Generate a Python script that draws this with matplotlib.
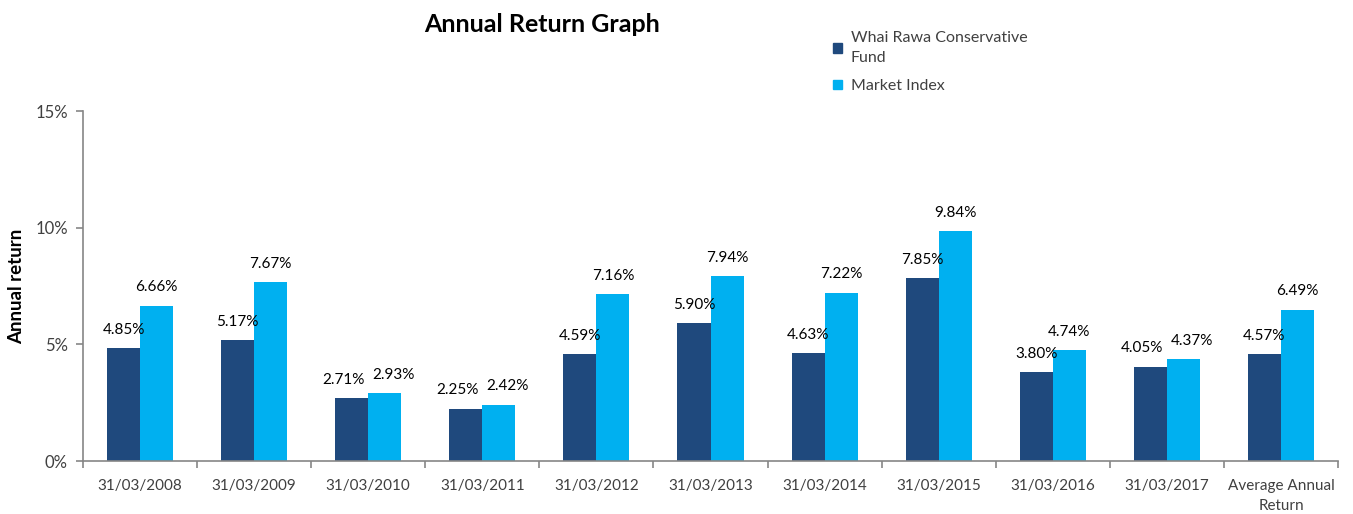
import numpy as np
import matplotlib
matplotlib.use('Agg')
import matplotlib.pyplot as plt
from matplotlib.patches import Patch

plt.rcParams['font.family'] = ['Lato', 'DejaVu Sans']

# data
categories = ['31/03/2008', '31/03/2009', '31/03/2010', '31/03/2011', '31/03/2012',
              '31/03/2013', '31/03/2014', '31/03/2015', '31/03/2016', '31/03/2017',
              'Average Annual\nReturn']
fund = [4.85, 5.17, 2.71, 2.25, 4.59, 5.90, 4.63, 7.85, 3.80, 4.05, 4.57]
market = [6.66, 7.67, 2.93, 2.42, 7.16, 7.94, 7.22, 9.84, 4.74, 4.37, 6.49]
series_names = ['Whai Rawa Conservative\nFund', 'Market Index']

dark = '#1F497D'
light = '#00B0F0'
grey = '#868686'
txt = '#404040'

fig = plt.figure(figsize=(13.53, 5.14), dpi=100)
ax = fig.add_axes([83/1353, 53/514, 1255/1353, 350/514])

x = np.arange(len(categories))
w = 0.29
b1 = ax.bar(x - w/2, fund, w, color=dark)
b2 = ax.bar(x + w/2, market, w, color=light)

# value labels, pushed apart sideways when the two bars are about the same height
for i in range(len(categories)):
    dx = 6 if abs(fund[i] - market[i]) < 0.7 else 0
    for r, v, sgn in ((b1[i], fund[i], -1), (b2[i], market[i], 1)):
        ax.annotate(f'{v:.2f}%', (r.get_x() + r.get_width()/2, v),
                    xytext=(sgn*dx, 8), textcoords='offset points',
                    ha='center', va='bottom', fontsize=11, color='black')

ax.set_xlim(-0.5, len(categories) - 0.5)
ax.set_ylim(0, 15)
ax.set_yticks([0, 5, 10, 15])
ax.set_yticklabels(['0%', '5%', '10%', '15%'], fontsize=12, color=txt)
ax.set_xticks(x)
ax.set_xticklabels(categories, fontsize=11, color=txt, linespacing=1.5)
ax.set_xticks(np.arange(len(categories) + 1) - 0.5, minor=True)
ax.tick_params(axis='x', which='major', length=0, pad=13)
ax.tick_params(axis='x', which='minor', length=5, color=grey, width=1.2)
ax.tick_params(axis='y', length=5, color=grey, width=1.2, pad=6)

for s in ['top', 'right']:
    ax.spines[s].set_visible(False)
for s in ['left', 'bottom']:
    ax.spines[s].set_color(grey)
    ax.spines[s].set_linewidth(1.2)

ax.set_ylabel('Annual return', fontsize=13.5, fontweight='bold', va='center')
ax.yaxis.set_label_coords(-0.053, 0.5)

fig.text(542/1353, 1 - 25/514, 'Annual Return Graph', ha='center', va='center',
         fontsize=18, fontweight='bold')

handles = [Patch(color=dark), Patch(color=light)]
leg = fig.legend(handles, series_names, loc='upper left', bbox_to_anchor=(819/1353, 1 - 17/514),
                 frameon=False, fontsize=11.5, handlelength=0.55, handleheight=0.55,
                 handletextpad=0.55, labelspacing=0.85)
for t in leg.get_texts():
    t.set_color(txt)
    t.set_linespacing(1.55)

fig.savefig('out.png', dpi=100)
